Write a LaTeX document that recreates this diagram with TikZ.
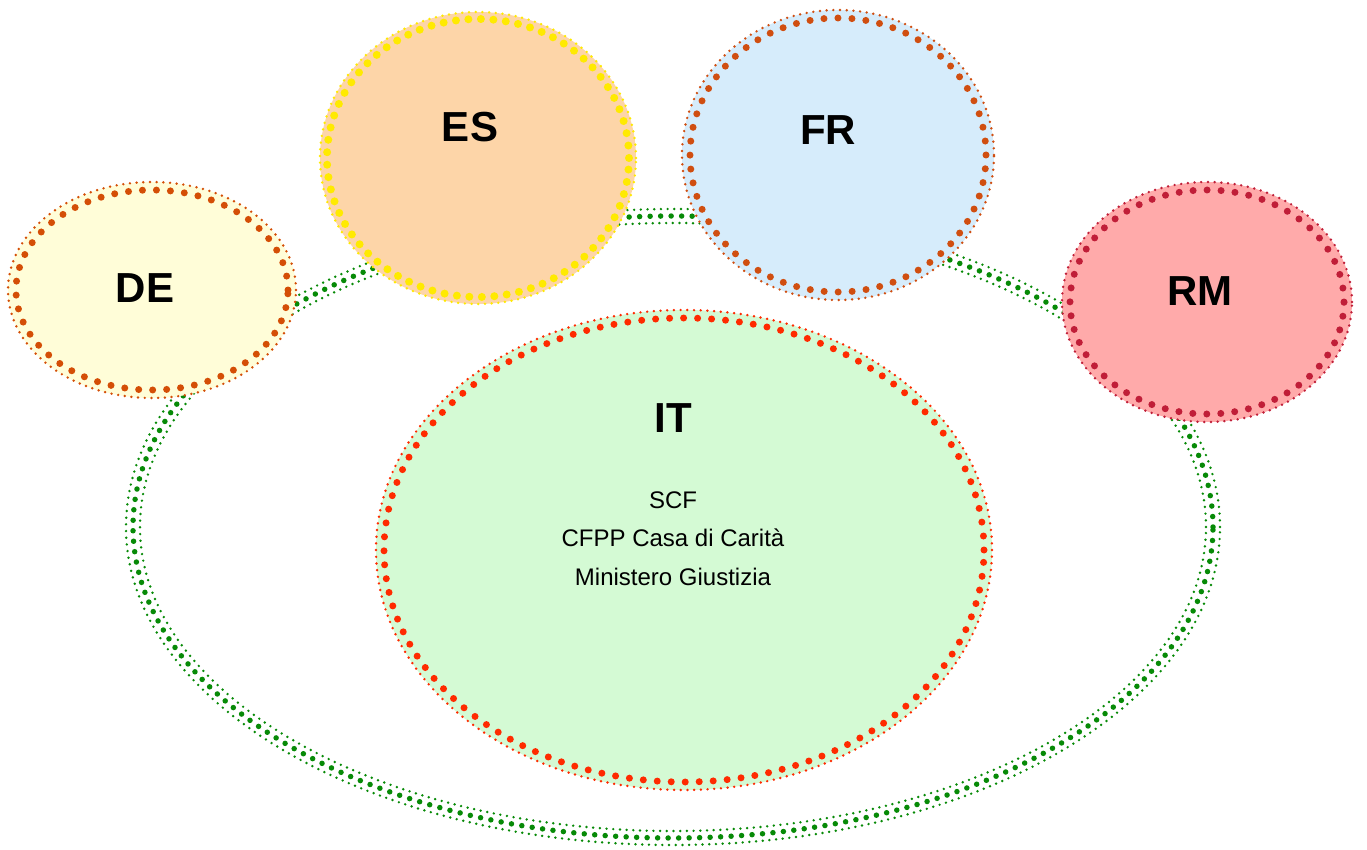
\documentclass[tikz,border=0pt]{standalone}
\usepackage{fontspec}
\setmainfont{Liberation Sans}
\definecolor{ringgreen}{HTML}{078A07}
\definecolor{defill}{HTML}{FFFDD8}
\definecolor{deline}{HTML}{D44E06}
\definecolor{esfill}{HTML}{FDD5A8}
\definecolor{esline}{HTML}{FFEA00}
\definecolor{frfill}{HTML}{D6ECFB}
\definecolor{frline}{HTML}{D04E10}
\definecolor{rmfill}{HTML}{FFAAAA}
\definecolor{rmline}{HTML}{C01E38}
\definecolor{itfill}{HTML}{D4FAD4}
\definecolor{itline}{HTML}{FF2A00}
\begin{document}
\begin{tikzpicture}[x=1pt,y=-1pt,
  finedots/.style={line width=2.7pt,line cap=round,dash pattern=on 0pt off 6.7pt},
  bigdots/.style={line width=7pt,line cap=round,dash pattern=on 0pt off 14pt},
  title/.style={font=\fontsize{42}{48}\selectfont\bfseries,inner sep=0pt},
  member/.style={font=\fontsize{24}{29}\selectfont,inner sep=0pt,anchor=base}]
\useasboundingbox (0,0) rectangle (1367,850);

% green ring joining the partners
\draw[finedots,ringgreen] (673,527) ellipse [x radius=547pt,y radius=318pt];
\draw[bigdots,ringgreen,line width=5.5pt,dash pattern=on 0pt off 10.5pt] (673,527) ellipse [x radius=540pt,y radius=311pt];
\draw[finedots,ringgreen] (673,527) ellipse [x radius=533pt,y radius=304pt];

% DE
\fill[defill] (152,290) ellipse [x radius=144pt,y radius=108pt];
\draw[finedots,deline] (152,290) ellipse [x radius=144pt,y radius=108pt];
\draw[bigdots,deline] (152,290) ellipse [x radius=136pt,y radius=100pt];
\node[title] (de) at (145,288) {DE};

% ES
\fill[esfill] (478,158) ellipse [x radius=158pt,y radius=146pt];
\draw[finedots,esline] (478,158) ellipse [x radius=158pt,y radius=146pt];
\draw[bigdots,esline,line width=8pt,dash pattern=on 0pt off 12.5pt] (478,158) ellipse [x radius=151pt,y radius=139pt];
\node[title] (es) at (470,127) {ES};

% FR
\fill[frfill] (838,155) ellipse [x radius=156pt,y radius=145pt];
\draw[finedots,frline] (838,155) ellipse [x radius=156pt,y radius=145pt];
\draw[bigdots,frline] (838,155) ellipse [x radius=148pt,y radius=137pt];
\node[title] (fr) at (828,130) {FR};

% RM
\fill[rmfill] (1207,302) ellipse [x radius=145pt,y radius=120pt];
\draw[finedots,rmline] (1207,302) ellipse [x radius=145pt,y radius=120pt];
\draw[bigdots,rmline] (1207,302) ellipse [x radius=137pt,y radius=112pt];
\node[title] (rm) at (1200,291) {RM};

% IT
\fill[itfill] (684,550) ellipse [x radius=308pt,y radius=240pt];
\draw[finedots,itline] (684,550) ellipse [x radius=308pt,y radius=240pt];
\draw[bigdots,itline] (684,550) ellipse [x radius=300pt,y radius=232pt];
\node[title] (it) at (673,418) {IT};
\node[member] (scf) at (673,508) {SCF};
\node[member] (cfpp) at (673,546.5) {CFPP Casa di Carità};
\node[member] (min) at (673,585) {Ministero Giustizia};
\end{tikzpicture}
\end{document}
